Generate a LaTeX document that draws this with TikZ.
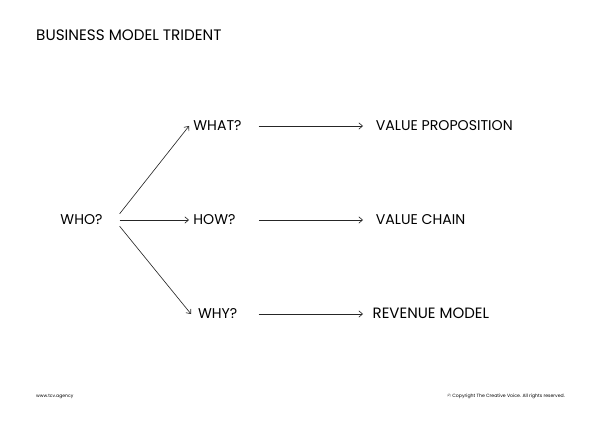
\documentclass[tikz,border=0pt]{standalone}
\usepackage{fontspec}
\setmainfont{Poppins}
\usetikzlibrary{arrows.meta}
\tikzset{
    label/.style={font=\fontsize{13.4pt}{15pt}\selectfont, text height=9.4pt, text depth=0pt, minimum height=11.4pt, inner ysep=0pt, inner xsep=4pt},
    small/.style={font=\fontsize{4.3pt}{5pt}\selectfont, inner sep=0pt},
    link/.style={->, >={Straight Barb[length=3.5pt,width=6pt]}, line width=0.6pt, black!85}
}
\begin{document}
\begin{tikzpicture}[x=0.03333cm,y=-0.03333cm]
    \useasboundingbox (0,0) rectangle (600,430);
    \node[label,font=\fontsize{14.4pt}{16pt}\selectfont,inner xsep=0pt,anchor=west] (title) at (36,35.5) {BUSINESS MODEL TRIDENT};
    \node[label,inner xsep=16pt] (who) at (81.5,220) {WHO?};
    \node[label,anchor=west] (what) at (189,126) {WHAT?};
    \node[label,anchor=west] (how) at (189,220) {HOW?};
    \node[label,anchor=west,inner xsep=6.5pt] (why) at (191,314) {WHY?};
    \node[label,anchor=west,inner xsep=12pt] (proposition) at (363,126) {VALUE PROPOSITION};
    \node[label,anchor=west,inner xsep=12pt] (chain) at (363,220) {VALUE CHAIN};
    \node[label,font=\fontsize{14.2pt}{16pt}\selectfont,anchor=west,inner xsep=9pt] (revenue) at (363,314) {REVENUE MODEL};
    \node[small,anchor=west] (site) at (36,396.5) {www.tcv.agency};
    \node[small,font=\fontsize{4.4pt}{5pt}\selectfont,anchor=east] (copyright) at (565,396.5) {\textcopyright{} Copyright The Creative Voice. All rights reserved.};
    \draw[link] (who.north east) -- (what.west);
    \draw[link] (who.east) -- (how.west);
    \draw[link] (who.south east) -- (why.west);
    \draw[link,shorten <=12pt] (what.east) -- (proposition.west);
    \draw[link,shorten <=18pt] (how.east) -- (chain.west);
    \draw[link,shorten <=13.5pt] (why.east) -- (revenue.west);
\end{tikzpicture}
\end{document}
